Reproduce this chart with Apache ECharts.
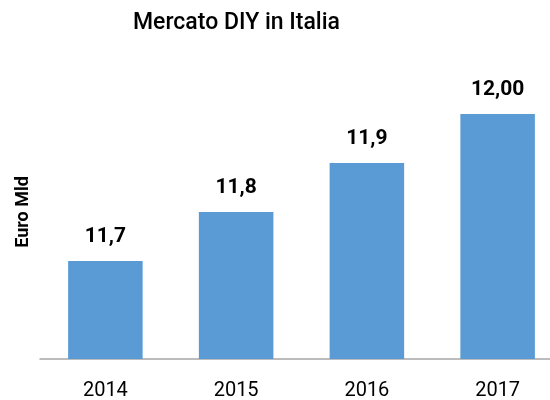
<!DOCTYPE html>
<html>
<head>
<meta charset="utf-8">
<script src="https://cdn.jsdelivr.net/npm/echarts@6/dist/echarts.min.js"></script>
<style>
  html, body { margin: 0; padding: 0; background: #fff; }
  #main { width: 550px; height: 400px; }
</style>
</head>
<body>
<div id="main"></div>
<script>
var years = ['2014', '2015', '2016', '2017'];
var values = [11.7, 11.8, 11.9, 12.0];
var valueLabels = ['11,7', '11,8', '11,9', '12,00'];

var chartDom = document.getElementById('main');
var myChart = echarts.init(chartDom);
var font = 'Roboto';

var option = {
  backgroundColor: '#ffffff',
  animation: false,
  title: {
    text: 'Mercato DIY in Italia',
    left: 128,
    top: 7,
    textStyle: { fontFamily: font, fontSize: 23, fontWeight: 500, color: '#000' }
  },
  grid: {
    left: 40,
    width: 523,
    top: 65,
    bottom: 41,
    outerBoundsMode: 'none'
  },
  xAxis: {
    type: 'category',
    data: years,
    axisTick: { show: false },
    axisLine: { lineStyle: { color: '#a6a6a6', width: 1.5 } },
    axisLabel: { fontFamily: font, fontSize: 20, color: '#000', margin: 22 }
  },
  yAxis: {
    type: 'value',
    min: 11.5,
    max: 12.1,
    name: 'Euro Mld',
    nameLocation: 'middle',
    nameGap: 8,
    nameTextStyle: { fontFamily: font, fontSize: 18, fontWeight: 'bold', color: '#000' },
    axisLine: { show: false },
    axisTick: { show: false },
    axisLabel: { show: false },
    splitLine: { show: false }
  },
  series: [
    {
      type: 'bar',
      data: values,
      barWidth: '57%',
      itemStyle: { color: '#5b9bd5' },
      label: {
        show: true,
        position: 'top',
        distance: 14,
        fontFamily: font,
        fontSize: 21,
        fontWeight: 'bold',
        color: '#000',
        formatter: function (p) { return valueLabels[p.dataIndex]; }
      }
    }
  ]
};

option && myChart.setOption(option);
</script>
</body>
</html>
